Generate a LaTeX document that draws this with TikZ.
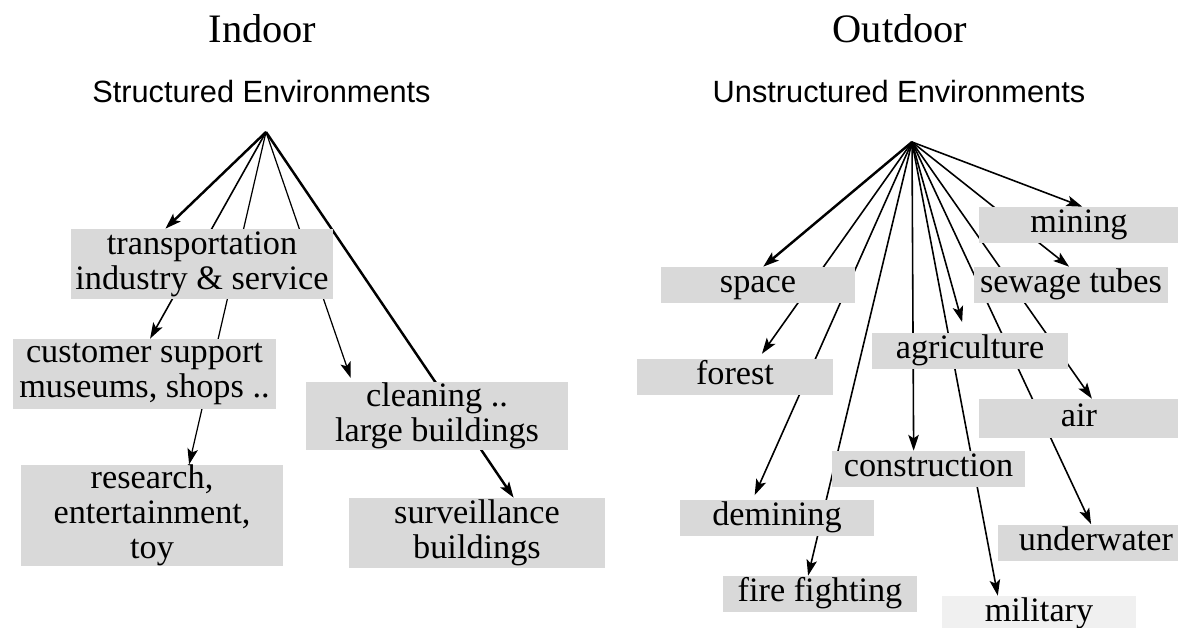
\documentclass[tikz,border=0pt]{standalone}
\usepackage{fontspec}
\setmainfont{Liberation Serif}
\setsansfont{Liberation Sans}
\usetikzlibrary{arrows.meta,backgrounds}
\definecolor{boxgray}{RGB}{217,217,217}
\definecolor{boxlight}{RGB}{240,240,240}

\begin{document}
\begin{tikzpicture}
        [x=0.02cm, y=-0.02cm,
        envbox/.style={fill=boxgray, inner sep=0pt, align=center, font=\fontsize{19.5}{20}\selectfont},
        outbox/.style={envbox, minimum width=3.88cm, minimum height=0.72cm, text height=14pt, text depth=5pt},
        title/.style={anchor=base, font=\fontsize{23}{26}\selectfont},
        subtitle/.style={anchor=base, font=\sffamily\fontsize{17.5}{20}\selectfont},
        arr/.style={-{Stealth[length=9pt,width=6pt,inset=2pt]}, line width=0.9pt},
        thin arr/.style={arr, line width=0.7pt},
        thick arr/.style={arr, line width=1.4pt}]

        \useasboundingbox (0,0) rectangle (1178,627);
        \clip (0,0) rectangle (1178,627);

        \node[title] (indoor) at (262.5,42) {Indoor};
        \node[subtitle] (structured) at (261.5,102) {Structured Environments};
        \node[title] (outdoor) at (900,42) {Outdoor};
        \node[subtitle] (unstructured) at (899,102) {Unstructured Environments};

        \coordinate (inroot) at (266,132);
        \coordinate (outroot) at (912,142);

        \node[envbox, minimum width=5.24cm, minimum height=1.4cm] (transport) at (202,264) {transportation\\industry \& service};
        \node[envbox, minimum width=5.26cm, minimum height=1.4cm] (customer) at (144.5,374) {customer support\\museums, shops ..};
        \node[envbox, minimum width=5.24cm, minimum height=2.02cm] (research) at (152,515.5) {research,\\entertainment,\\toy};
        \node[envbox, minimum width=5.24cm, minimum height=1.36cm] (cleaning) at (437,416) {cleaning ..\\large buildings};
        \node[envbox, minimum width=5.12cm, minimum height=1.4cm] (surveil) at (477,533) {surveillance\\buildings};

        \node[outbox, minimum width=4cm] (mining) at (1079,225) {mining};
        \node[outbox] (space) at (758,285) {space};
        \node[outbox] (sewage) at (1071,285) {sewage tubes};
        \node[outbox, minimum width=3.92cm] (agri) at (970,351) {agriculture};
        \node[outbox, minimum width=3.92cm] (forest) at (735,377) {forest};
        \node[outbox, minimum width=4cm, minimum height=0.78cm] (air) at (1079,418.5) {air};
        \node[outbox] (constr) at (928.5,469) {construction};
        \node[outbox] (demining) at (777,518) {demining};
        \node[outbox, minimum width=3.92cm] (underwater) at (1096,542.5) {underwater};
        \node[outbox] (fire) at (820,594) {fire fighting};
        \node[outbox, fill=boxlight] (military) at (1039,614) {military};

        \begin{scope}[on background layer]
        \draw[thick arr] (inroot) -- (transport.136);
        \draw[arr] (inroot) -- (customer.81);
        \draw[thin arr] (inroot) -- (research.54);
        \draw[thin arr, shorten >=0.08cm] (inroot) -- (cleaning.158);
        \draw[thick arr] (inroot) -- (surveil.44);

        \draw[arr] (outroot) -- (mining.80);
        \draw[thick arr] (outroot) -- (space.74);
        \draw[arr] (outroot) -- (sewage.96);
        \draw[arr, shorten >=0.22cm] (outroot) -- (agri.105);
        \draw[arr, shorten >=0.12cm] (outroot) -- (forest.38);
        \draw[arr] (outroot) -- (air.57);
        \draw[arr] (outroot) -- (constr.129);
        \draw[arr, shorten >=0.1cm] (outroot) -- (demining.143);
        \draw[arr] (outroot) -- (underwater.105);
        \draw[arr] (outroot) -- (fire.123);
        \draw[arr] (outroot) -- (military.156);
        \end{scope}

      \end{tikzpicture}
\end{document}
